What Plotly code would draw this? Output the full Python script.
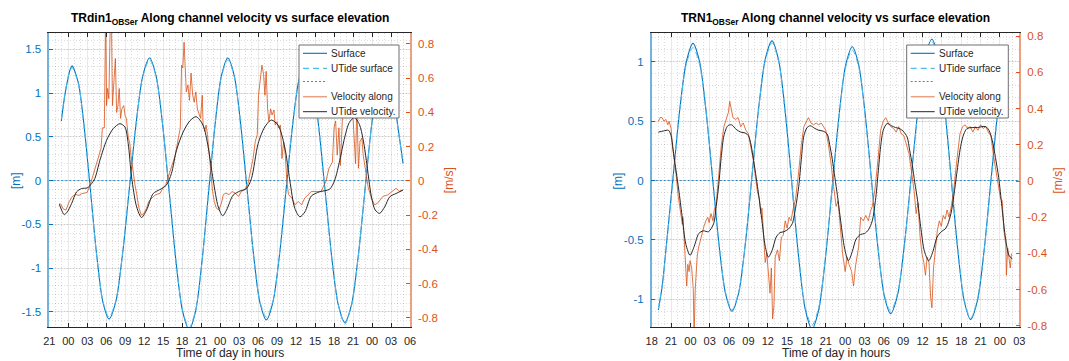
import pandas as pd
import plotly.graph_objects as go

W, H = 1069, 361

# ---------------- DATA (hours after the first x tick of each panel) ----------------
LEFT_T0 = "2020-03-09 21:00"
RIGHT_T0 = "2020-03-09 18:00"
SPAN_HOURS = [0, 57]
zero_level = [0, 0]

# --- Left panel: TRdin1 ---
l_surface = [(1.9, 0.68), (2.4, 0.95), (2.9, 1.15), (3.3, 1.27), (3.6, 1.31),
             (4.58, 1.12), (5.55, 0.59), (6.53, -0.135), (7.5, -0.86), (8.48, -1.39), (9.45, -1.58),
             (10.52, -1.38), (11.58, -0.835), (12.65, -0.09), (13.72, 0.655), (14.78, 1.20), (15.85, 1.40),
             (16.89, 1.19), (17.93, 0.625), (18.98, -0.15), (20.02, -0.925), (21.06, -1.49), (22.1, -1.70),
             (23.12, -1.49), (24.13, -0.925), (25.15, -0.15), (26.17, 0.625), (27.18, 1.19), (28.2, 1.40),
             (29.22, 1.20), (30.23, 0.653), (31.25, -0.095), (32.27, -0.843), (33.28, -1.39), (34.3, -1.59),
             (35.33, -1.39), (36.37, -0.853), (37.4, -0.115), (38.43, 0.623), (39.47, 1.16), (40.5, 1.36),
             (41.53, 1.16), (42.57, 0.615), (43.6, -0.13), (44.63, -0.875), (45.67, -1.42), (46.7, -1.62),
             (47.75, -1.42), (48.8, -0.875), (49.85, -0.13), (50.9, 0.615), (51.95, 1.16), (53.0, 1.36),
             (54.0, 1.16), (55.0, 0.66), (55.9, 0.20)]
l_utide_surface = [0.70, 0.96, 1.16, 1.26, 1.29,
                   1.11, 0.58, -0.14, -0.86, -1.38, -1.56,
                   -1.37, -0.83, -0.09, 0.65, 1.19, 1.38,
                   1.18, 0.62, -0.15, -0.92, -1.48, -1.68,
                   -1.48, -0.92, -0.15, 0.62, 1.18, 1.38,
                   1.19, 0.65, -0.10, -0.84, -1.38, -1.56,
                   -1.38, -0.85, -0.12, 0.62, 1.15, 1.35,
                   1.15, 0.61, -0.13, -0.87, -1.42, -1.64,
                   -1.43, -0.88, -0.14, 0.61, 1.15, 1.35,
                   1.15, 0.65, 0.19]
l_velocity = [(1.62, -0.13), (1.87, -0.14), (2.23, -0.165), (2.64, -0.17), (3.16, -0.12), (3.67, -0.09),
              (4.18, -0.08), (4.7, -0.085), (5.1, -0.075), (5.46, -0.072), (5.98, -0.068), (6.49, -0.02),
              (7.26, 0.074), (7.77, 0.13), (8.18, 0.19), (8.39, 0.31), (8.7, 0.31), (8.9, 1.0), (9.05, 0.44),
              (9.21, 0.54), (9.41, 0.48), (9.67, 1.0), (9.82, 0.95), (9.98, 0.44), (10.18, 0.6), (10.44, 0.715),
              (10.64, 0.40), (10.85, 0.44), (11.05, 0.54), (11.26, 0.365), (11.46, 0.42), (11.77, 0.44),
              (11.98, 0.38), (12.18, 0.365), (12.49, 0.25), (12.69, 0.23), (12.9, 0.15), (13.21, 0.055),
              (13.52, -0.02), (13.82, -0.08), (14.18, -0.16), (14.54, -0.2), (14.95, -0.19), (15.36, -0.16),
              (15.72, -0.12), (16.23, -0.10), (16.75, -0.082), (17.52, -0.072), (17.9, -0.045), (18.4, -0.023),
              (18.9, 0.035), (19.4, 0.093), (19.9, 0.15), (20.4, 0.25), (20.7, 0.31), (20.9, 0.676),
              (21.1, 0.66), (21.3, 0.81), (21.5, 0.6), (21.65, 0.52), (21.9, 0.56), (22.16, 0.47), (22.4, 0.63),
              (22.66, 0.5), (22.9, 0.46), (23.15, 0.52), (23.4, 0.42), (23.66, 0.385), (23.9, 0.365),
              (24.17, 0.5), (24.3, 0.326), (24.57, 0.29), (24.77, 0.326), (25.0, 0.27), (25.3, 0.15),
              (25.57, 0.035), (25.8, -0.062), (26.07, -0.12), (26.4, -0.16), (26.8, -0.17), (27.2, -0.13),
              (27.5, -0.08), (27.9, -0.072), (28.4, -0.08), (28.9, -0.062), (29.4, -0.072), (29.9, -0.091),
              (30.35, -0.062), (30.85, -0.052), (31.35, -0.023), (31.85, 0.074), (32.2, 0.13), (32.55, 0.23),
              (32.86, 0.27), (33.06, 0.5), (33.36, 0.6), (33.6, 0.676), (33.87, 0.62), (34.07, 0.5),
              (34.27, 0.64), (34.5, 0.42), (34.7, 0.346), (34.97, 0.42), (35.2, 0.385), (35.5, 0.414),
              (35.7, 0.326), (36.0, 0.346), (36.2, 0.31), (36.52, 0.326), (36.77, 0.13), (37.03, 0.23),
              (37.3, 0.15), (37.54, -0.004), (37.8, -0.08), (38.3, -0.1), (38.83, -0.14), (39.34, -0.12),
              (39.86, -0.14), (40.37, -0.10), (40.9, -0.082), (41.4, -0.062), (42.17, -0.062), (42.94, -0.062),
              (43.7, -0.004), (44.2, 0.074), (44.74, 0.11), (45.0, 0.31), (45.25, 0.35), (45.5, 0.15),
              (45.77, 0.31), (46.0, 0.09), (46.3, 0.35), (46.6, 0.55), (46.9, 0.45), (47.2, 0.62), (47.5, 0.4),
              (47.8, 0.5), (48.1, 0.3), (48.4, 0.1), (48.6, 0.45), (48.85, 0.074), (49.1, 0.23), (49.4, 0.25),
              (49.6, 0.152), (50.0, 0.054), (50.4, -0.04), (50.9, -0.1), (51.4, -0.14), (51.9, -0.13),
              (52.7, -0.091), (53.5, -0.082), (54.25, -0.062), (54.8, -0.043), (55.3, -0.062), (55.8, -0.052)]
l_utide_velocity = [(1.58, -0.136), (1.95, -0.171), (2.32, -0.196), (2.74, -0.187), (3.53, -0.132),
                    (4.32, -0.064), (5.1, -0.045), (6.0, -0.041), (6.68, -0.016), (7.2, 0.014), (8.0, 0.12),
                    (9.05, 0.237), (10.1, 0.305), (11.16, 0.334), (11.95, 0.315), (12.47, 0.218), (13.0, 0.023),
                    (13.8, -0.152), (14.58, -0.214), (15.37, -0.171), (16.42, -0.074), (17.47, -0.051),
                    (18.5, -0.025), (19.3, 0.043), (20.1, 0.179), (21.16, 0.286), (22.2, 0.35), (23.2, 0.375),
                    (24.3, 0.325), (25.1, 0.198), (25.9, 0.004), (26.7, -0.152), (27.4, -0.204), (28.0, -0.171),
                    (29.05, -0.084), (30.1, -0.06), (31.16, -0.045), (31.95, 0.014), (33.0, 0.218),
                    (34.05, 0.315), (35.1, 0.355), (36.16, 0.325), (37.2, 0.198), (38.0, 0.004), (38.8, -0.161),
                    (39.6, -0.21), (40.4, -0.181), (41.4, -0.089), (42.7, -0.064), (44.3, -0.049), (45.1, 0.004),
                    (45.9, 0.12), (46.7, 0.257), (47.4, 0.34), (48.2, 0.37), (49.0, 0.33), (49.6, 0.24),
                    (50.1, 0.12), (50.9, -0.093), (51.5, -0.17), (52.2, -0.19), (53.0, -0.152), (53.8, -0.093),
                    (54.8, -0.074), (55.9, -0.054)]

# --- Right panel: TRN1 ---
r_surface = [(1.03, -1.09), (1.65, -0.88), (2.27, -0.55), (3.3, 0.018), (4.33, 0.587), (5.37, 1.0), (6.4, 1.155),
             (7.41, 1.004), (8.42, 0.591), (9.43, 0.028), (10.43, -0.536), (11.44, -0.949), (12.45, -1.10),
             (13.48, -0.948), (14.52, -0.531), (15.55, 0.038), (16.58, 0.607), (17.62, 1.024), (18.65, 1.176),
             (19.68, 1.013), (20.72, 0.57), (21.75, -0.037), (22.78, -0.644), (23.82, -1.087), (24.85, -1.25),
             (25.89, -1.091), (26.93, -0.656), (27.98, -0.062), (29.02, 0.532), (30.06, 0.967), (31.1, 1.126),
             (32.09, 0.976), (33.08, 0.565), (34.08, 0.003), (35.07, -0.559), (36.06, -0.97), (37.05, -1.12),
             (38.12, -0.965), (39.18, -0.543), (40.25, 0.035), (41.32, 0.613), (42.38, 1.035), (43.45, 1.19),
             (44.45, 1.032), (45.45, 0.6), (46.45, 0.01), (47.45, -0.58), (48.45, -1.012), (49.45, -1.17),
             (50.5, -1.014), (51.55, -0.588), (52.6, -0.005), (53.65, 0.578), (54.7, 1.004), (55.05, 1.07)]
r_utide_surface = [-1.08, -0.87, -0.55, 0.02, 0.58, 0.98, 1.12,
                   0.98, 0.58, 0.02, -0.53, -0.94, -1.09,
                   -0.94, -0.53, 0.04, 0.60, 1.01, 1.16,
                   1.00, 0.56, -0.04, -0.63, -1.07, -1.22,
                   -1.07, -0.65, -0.06, 0.52, 0.95, 1.10,
                   0.96, 0.56, 0.00, -0.55, -0.96, -1.10,
                   -0.95, -0.54, 0.03, 0.60, 1.02, 1.17,
                   1.02, 0.59, 0.01, -0.57, -1.00, -1.16,
                   -1.00, -0.58, 0.00, 0.57, 0.99, 1.05]
r_velocity = [(1.04, 0.33), (1.3, 0.35), (1.6, 0.35), (1.9, 0.33), (2.2, 0.34), (2.5, 0.31), (2.7, 0.33),
              (3.0, 0.29), (3.2, 0.2), (3.5, 0.12), (3.8, 0.03), (4.1, -0.08), (4.4, -0.15), (4.6, -0.19),
              (4.75, -0.24), (4.85, -0.2), (5.0, -0.3), (5.25, -0.45), (5.43, -0.58), (5.6, -0.46), (5.8, -0.5),
              (5.95, -0.44), (6.2, -0.48), (6.45, -0.6), (6.57, -0.86), (6.75, -0.6), (6.88, -0.51),
              (7.05, -0.42), (7.25, -0.37), (7.5, -0.33), (7.8, -0.3), (8.1, -0.25), (8.4, -0.22), (8.7, -0.2),
              (8.9, -0.23), (9.2, -0.18), (9.5, -0.22), (9.7, -0.16), (10.0, -0.13), (10.3, 0.0), (10.8, 0.2),
              (11.2, 0.3), (11.5, 0.34), (11.9, 0.38), (12.1, 0.44), (12.3, 0.4), (12.6, 0.35), (13.0, 0.34),
              (13.4, 0.35), (13.8, 0.3), (14.2, 0.32), (14.6, 0.28), (15.0, 0.26), (15.4, 0.18), (15.8, 0.11),
              (16.1, 0.02), (16.4, -0.06), (16.7, -0.1), (16.9, -0.18), (17.1, -0.15), (17.3, -0.3),
              (17.6, -0.45), (17.85, -0.4), (18.1, -0.5), (18.35, -0.62), (18.55, -0.48), (18.75, -0.76),
              (18.95, -0.69), (19.15, -0.42), (19.5, -0.38), (19.8, -0.44), (20.1, -0.31), (20.4, -0.3),
              (20.7, -0.22), (21.0, -0.26), (21.3, -0.2), (21.6, -0.22), (21.9, -0.16), (22.3, -0.1),
              (22.7, 0.02), (23.2, 0.2), (23.6, 0.3), (24.0, 0.33), (24.3, 0.35), (24.7, 0.32), (25.1, 0.31),
              (25.5, 0.32), (25.9, 0.31), (26.3, 0.32), (26.7, 0.3), (27.0, 0.28), (27.4, 0.2), (27.8, 0.1),
              (28.2, -0.03), (28.6, -0.14), (28.9, -0.11), (29.2, -0.25), (29.6, -0.4), (30.0, -0.5),
              (30.3, -0.42), (30.6, -0.46), (31.0, -0.5), (31.3, -0.58), (31.6, -0.47), (32.1, -0.36),
              (32.4, -0.2), (32.8, -0.22), (33.2, -0.19), (33.6, -0.22), (33.9, -0.17), (34.2, -0.14),
              (34.6, -0.05), (35.1, 0.12), (35.5, 0.28), (35.9, 0.33), (36.3, 0.35), (36.7, 0.32), (37.1, 0.3),
              (37.5, 0.29), (37.9, 0.27), (38.3, 0.3), (38.7, 0.26), (39.1, 0.25), (39.5, 0.2), (39.9, 0.15),
              (40.3, 0.05), (40.7, -0.06), (41.0, -0.18), (41.3, -0.12), (41.6, -0.3), (41.9, -0.4),
              (42.2, -0.45), (42.45, -0.52), (42.7, -0.42), (43.0, -0.45), (43.25, -0.64), (43.45, -0.70),
              (43.7, -0.48), (44.0, -0.38), (44.3, -0.27), (44.6, -0.22), (44.9, -0.25), (45.2, -0.19),
              (45.5, -0.21), (45.8, -0.16), (46.1, -0.2), (46.4, -0.15), (46.8, -0.06), (47.3, 0.11),
              (47.8, 0.26), (48.2, 0.3), (48.6, 0.31), (49.0, 0.29), (49.4, 0.3), (49.8, 0.27), (50.2, 0.3),
              (50.6, 0.28), (51.0, 0.31), (51.4, 0.29), (51.8, 0.3), (52.2, 0.27), (52.6, 0.25), (53.0, 0.14),
              (53.4, 0.06), (53.8, -0.03), (54.1, -0.1), (54.35, -0.107), (54.6, -0.27), (54.9, -0.35),
              (55.0, -0.52), (55.2, -0.37), (55.4, -0.44), (55.6, -0.48), (55.8, -0.40)]
r_utide_velocity = [(1.04, 0.27), (1.8, 0.276), (2.6, 0.28), (3.0, 0.25), (3.4, 0.15), (3.8, 0.05), (4.2, -0.05),
                    (4.7, -0.19), (5.3, -0.35), (5.95, -0.41), (6.6, -0.36), (7.3, -0.29), (8.0, -0.275),
                    (8.8, -0.28), (9.6, -0.236), (10.0, -0.14), (10.4, -0.02), (10.8, 0.14), (11.2, 0.25),
                    (11.8, 0.305), (12.4, 0.31), (13.1, 0.285), (13.8, 0.27), (14.5, 0.265), (15.0, 0.25),
                    (15.4, 0.2), (15.8, 0.114), (16.2, 0.02), (16.6, -0.08), (17.1, -0.22), (17.6, -0.36),
                    (18.1, -0.42), (18.7, -0.38), (19.3, -0.31), (19.9, -0.285), (20.5, -0.28), (21.2, -0.265),
                    (21.8, -0.235), (22.3, -0.15), (22.8, -0.03), (23.2, 0.12), (23.6, 0.25), (24.1, 0.295),
                    (24.6, 0.305), (25.3, 0.29), (25.9, 0.28), (26.6, 0.275), (27.2, 0.26), (27.6, 0.2),
                    (28.0, 0.12), (28.4, 0.02), (28.8, -0.08), (29.3, -0.22), (29.9, -0.37), (30.5, -0.44),
                    (31.1, -0.39), (31.7, -0.32), (32.4, -0.295), (33.0, -0.29), (33.6, -0.27), (34.2, -0.22),
                    (34.7, -0.107), (35.1, 0.04), (35.5, 0.19), (35.9, 0.28), (36.5, 0.317), (37.2, 0.305),
                    (37.8, 0.295), (38.4, 0.29), (39.0, 0.275), (39.6, 0.243), (40.0, 0.17), (40.4, 0.09),
                    (40.8, -0.01), (41.2, -0.1), (41.7, -0.25), (42.3, -0.39), (42.96, -0.44), (43.6, -0.39),
                    (44.25, -0.31), (44.9, -0.28), (45.5, -0.265), (45.9, -0.24), (46.4, -0.18), (46.85, -0.08),
                    (47.3, 0.04), (47.9, 0.19), (48.4, 0.26), (48.9, 0.29), (49.7, 0.295), (50.5, 0.295),
                    (51.2, 0.3), (51.8, 0.3), (52.3, 0.28), (52.8, 0.225), (53.3, 0.13), (53.8, 0.02),
                    (54.3, -0.14), (54.8, -0.3), (55.4, -0.41), (55.9, -0.43)]

# tick labels
l_elev_ticks = [-1.5, -1, -0.5, 0, 0.5, 1, 1.5]
l_elev_labels = ["-1.5", "-1", "-0.5", "0", "0.5", "1", "1.5"]
r_elev_ticks = [-1, -0.5, 0, 0.5, 1]
r_elev_labels = ["-1", "-0.5", "0", "0.5", "1"]
vel_ticks = [-0.8, -0.6, -0.4, -0.2, 0, 0.2, 0.4, 0.6, 0.8]
vel_labels = ["-0.8", "-0.6", "-0.4", "-0.2", "0", "0.2", "0.4", "0.6", "0.8"]

titles = ["TRdin1<sub>OBSer</sub> Along channel velocity vs surface elevation",
          "TRN1<sub>OBSer</sub> Along channel velocity vs surface elevation"]
legend_names = ["Surface", "UTide surface", "", "Velocity along", "UTide velocity."]

# ---------------- STYLE ----------------
BLUE = "#0072BD"
LBLUE = "#4DBEEE"
ORANGE = "#D95319"
VEL_COL = "rgba(217,83,25,0.8)"
BLACK = "#262626"
FONT = "Liberation Sans, Arial, sans-serif"


def times(t0, hours):
    return pd.Timestamp(t0) + pd.to_timedelta(pd.Series(hours, dtype=float), unit="h")


def split(pairs):
    return [p[0] for p in pairs], [p[1] for p in pairs]


fig = go.Figure()


def add_panel(t0, surface, utide_surf, velocity, utide_vel, xa, ya, ya2):
    sh, sv = split(surface)
    vh, vv = split(velocity)
    uh, uv = split(utide_vel)
    tsurf = times(t0, sh)
    fig.add_trace(go.Scatter(x=tsurf, y=sv, mode="lines", name=legend_names[0], showlegend=False,
                             line=dict(color=BLUE, width=1.1, shape="spline", smoothing=0.8),
                             xaxis=xa, yaxis=ya))
    fig.add_trace(go.Scatter(x=tsurf, y=utide_surf, mode="lines", name=legend_names[1], showlegend=False,
                             line=dict(color=LBLUE, width=1, dash="6px,4px", shape="spline", smoothing=0.8),
                             xaxis=xa, yaxis=ya))
    fig.add_trace(go.Scatter(x=times(t0, SPAN_HOURS), y=zero_level, mode="lines", name="zero",
                             showlegend=False, line=dict(color=BLUE, width=0.8, dash="2px,2px"),
                             xaxis=xa, yaxis=ya))
    fig.add_trace(go.Scatter(x=times(t0, vh), y=vv, mode="lines", name=legend_names[3], showlegend=False,
                             line=dict(color=VEL_COL, width=1), xaxis=xa, yaxis=ya2))
    fig.add_trace(go.Scatter(x=times(t0, uh), y=uv, mode="lines", name=legend_names[4], showlegend=False,
                             line=dict(color=BLACK, width=1, shape="spline", smoothing=0.8),
                             xaxis=xa, yaxis=ya2))


add_panel(LEFT_T0, l_surface, l_utide_surface, l_velocity, l_utide_velocity, "x", "y", "y2")
add_panel(RIGHT_T0, r_surface, r_utide_surface, r_velocity, r_utide_velocity, "x2", "y3", "y4")

# ---------------- LAYOUT ----------------
PX_L = (49.3, 410.0)
PX_R = (651.7, 1019.3)
PY_T, PY_B = 33.0, 327.0


def fx(px):
    return px / W


def fy(py):
    return 1 - py / H


ydom = [fy(PY_B), fy(PY_T)]
GRID_MAJ = "rgba(38,38,38,0.10)"
GRID_MIN = "rgba(38,38,38,0.16)"


def xaxis_cfg(dom, t0):
    return dict(domain=[fx(dom[0]), fx(dom[1])], type="date",
                range=[pd.Timestamp(t0), pd.Timestamp(t0) + pd.Timedelta(hours=SPAN_HOURS[1])],
                tickformat="%H", dtick=3 * 3600 * 1000, tick0="2020-03-09 00:00",
                ticks="inside", ticklen=4, tickcolor=BLACK, showline=True, linecolor=BLACK,
                linewidth=1, mirror="ticks", tickfont=dict(family=FONT, size=11, color=BLACK),
                ticklabelstandoff=4,
                showgrid=True, gridcolor=GRID_MAJ, gridwidth=1,
                minor=dict(dtick=3600 * 1000, tick0="2020-03-09 00:00", showgrid=True,
                           gridcolor=GRID_MIN, griddash="1px,2px", gridwidth=1),
                automargin=False, zeroline=False, fixedrange=True)


def yleft_cfg(anchor, rng, tv, tt):
    return dict(domain=ydom, anchor=anchor, range=rng, tickvals=tv, ticktext=tt,
                ticks="inside", ticklen=4, tickcolor=BLUE, showline=True, linecolor="rgba(0,114,189,0.55)",
                linewidth=1.5, tickfont=dict(family=FONT, size=11.5, color=BLUE), ticklabelstandoff=4,
                showgrid=True, gridcolor=GRID_MAJ, gridwidth=1,
                minor=dict(dtick=0.1, showgrid=True, gridcolor=GRID_MIN,
                           griddash="1px,2px", gridwidth=1),
                zeroline=False, automargin=False, fixedrange=True)


def yright_cfg(anchor, over, rng):
    return dict(anchor=anchor, overlaying=over, side="right", range=rng, tickvals=vel_ticks,
                ticktext=vel_labels, ticks="inside", ticklen=4, tickcolor=ORANGE, showline=True,
                linecolor="rgba(217,83,25,0.55)", linewidth=1.5,
                tickfont=dict(family=FONT, size=11.5, color=ORANGE), ticklabelstandoff=4,
                showgrid=False, zeroline=False, automargin=False, fixedrange=True)


annotations = []
shapes = []

for (x0, x1), title in zip([PX_L, PX_R], titles):
    cx = (x0 + x1) / 2
    annotations.append(dict(text="<b>" + title + "</b>", x=fx(cx), y=fy(9), xref="paper", yref="paper",
                            xanchor="center", yanchor="top", showarrow=False,
                            font=dict(family=FONT, size=12, color="#000000")))
    annotations.append(dict(text="Time of day in hours", x=fx(cx), y=0, xref="paper", yref="paper",
                            xanchor="center", yanchor="bottom", showarrow=False, borderpad=0,
                            font=dict(family=FONT, size=12, color=BLACK)))
    annotations.append(dict(text="[m]", x=fx(x0 - 34), y=fy(180.7), xref="paper", yref="paper",
                            xanchor="center", yanchor="middle", textangle=-90, showarrow=False,
                            font=dict(family=FONT, size=12, color=BLUE)))
    annotations.append(dict(text="[m/s]", x=fx(x1 + 38.5), y=fy(180.7), xref="paper", yref="paper",
                            xanchor="center", yanchor="middle", textangle=-90, showarrow=False,
                            font=dict(family=FONT, size=12, color=ORANGE)))

# manual legends (white boxes covering the data like the original)
legend_boxes = [(299.0, 45.0, 399.0, 118.0), (906.7, 45.0, 1008.3, 118.0)]
item_dy = [8.3, 23.3, 36.5, 51.7, 66.7]
item_style = [dict(color=BLUE, width=1.1, dash="solid"),
              dict(color=LBLUE, width=1.3, dash="6px,4px"),
              dict(color=BLUE, width=0.8, dash="2px,2px"),
              dict(color="rgba(217,83,25,0.55)", width=1.5, dash="solid"),
              dict(color=BLACK, width=1, dash="solid")]
for (bx0, by0, bx1, by1) in legend_boxes:
    shapes.append(dict(type="rect", xref="paper", yref="paper", x0=fx(bx0), x1=fx(bx1), y0=fy(by1),
                       y1=fy(by0), fillcolor="white", line=dict(color="#6e6e6e", width=1), layer="above"))
    for dy, st, name in zip(item_dy, item_style, legend_names):
        yy = fy(by0 + dy)
        shapes.append(dict(type="line", xref="paper", yref="paper", x0=fx(bx0 + 4), x1=fx(bx0 + 28),
                           y0=yy, y1=yy, line=st, layer="above"))
        if name:
            annotations.append(dict(text=name, x=fx(bx0 + 30), y=yy, xref="paper", yref="paper",
                                    xanchor="left", yanchor="middle", showarrow=False,
                                    font=dict(family=FONT, size=10, color=BLACK)))

fig.update_layout(
    width=W, height=H, margin=dict(l=0, r=0, t=0, b=0),
    paper_bgcolor="white", plot_bgcolor="white", showlegend=False,
    font=dict(family=FONT),
    xaxis=xaxis_cfg(PX_L, LEFT_T0),
    xaxis2=xaxis_cfg(PX_R, RIGHT_T0),
    yaxis=yleft_cfg("x", [-1.672, 1.686], l_elev_ticks, l_elev_labels),
    yaxis2=yright_cfg("x", "y", [-0.854, 0.864]),
    yaxis3=yleft_cfg("x2", [-1.233, 1.242], r_elev_ticks, r_elev_labels),
    yaxis4=yright_cfg("x2", "y3", [-0.806, 0.817]),
    annotations=annotations, shapes=shapes,
)

fig.write_html("out.html")
